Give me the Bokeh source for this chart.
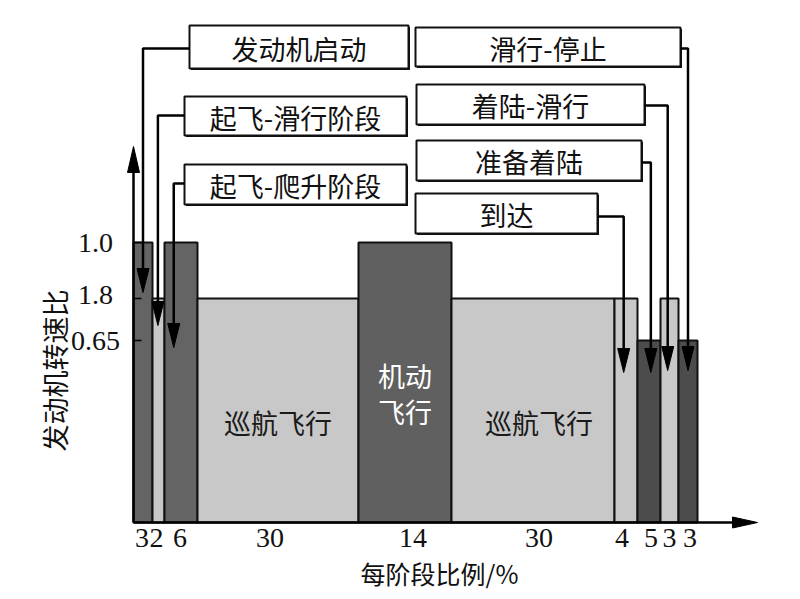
from bokeh.plotting import figure
from bokeh.models import Range1d
from bokeh.core.properties import value
from bokeh.embed import file_html
from bokeh.resources import INLINE

# ---------------- data ----------------
seg_pct = ["3", "2", "6", "30", "14", "30", "4", "5", "3", "3"]          # tick labels (% of mission)
seg_width = [19, 12, 33, 161, 93, 163, 23, 23, 18, 19]                  # drawn width of each phase
seg_ratio = [1.0, 0.8, 1.0, 0.8, 1.0, 0.8, 0.8, 0.65, 0.8, 0.65]         # engine speed ratio
seg_shade = ["dark", "light", "dark", "light", "mid", "light", "light", "darker", "light", "darker"]
y_ticks = [1.0, 0.8, 0.65]
y_tick_labels = ["1.0", "1.8", "0.65"]
callout_text = ["发动机启动", "起飞-滑行阶段", "起飞-爬升阶段", "滑行-停止", "着陆-滑行", "准备着陆", "到达"]
callout_seg = [0, 1, 2, 9, 8, 7, 6]
bar_text_seg = [3, 4, 4, 5]
bar_text = ["巡航飞行", "机动", "飞行", "巡航飞行"]

# ---------------- layout helpers (picture pixels -> data) ----------------
W, H = 784, 590
OX, OY, PXU = 133, 522, 280.0
def X(px):
    return px - OX
def Y(py):
    return (OY - py) / PXU

shade_color = {"dark": "#646464", "mid": "#606060", "darker": "#4c4c4c", "light": "#c8c8c8"}
CJK = value("Noto Sans CJK SC")
SERIF = value("Liberation Serif")

p = figure(width=W, height=H, output_backend="svg", toolbar_location=None,
           x_range=Range1d(X(0), X(W)), y_range=Range1d(Y(H), Y(0)),
           x_axis_location=None, y_axis_location=None, min_border=0,
           min_border_left=0, min_border_right=0, min_border_top=0, min_border_bottom=0)
p.outline_line_color = None
p.xgrid.grid_line_color = None
p.ygrid.grid_line_color = None
p.background_fill_color = "white"
p.border_fill_color = "white"

# bars
lefts, rights = [], []
acc = 0
for w in seg_width:
    lefts.append(acc)
    acc += w
    rights.append(acc)
centers = [(l + r) / 2 for l, r in zip(lefts, rights)]
p.quad(left=lefts, right=rights, bottom=[0] * len(seg_width), top=seg_ratio,
       fill_color=[shade_color[s] for s in seg_shade], line_color="#111111", line_width=2)

# bar texts
bt_dy = [422, 375, 411, 422]
bt_dx = [0, 0, 0, 6]
bt_x = [centers[s] + d for s, d in zip(bar_text_seg, bt_dx)]
bt_y = [Y(v) for v in bt_dy]
bt_col = ["#1a1a1a", "white", "white", "#1a1a1a"]
p.text(x=bt_x, y=bt_y, text=bar_text, text_color=bt_col, text_font=CJK,
       text_font_size="27px", text_align="center", text_baseline="middle")

# axes (arrows)
p.line([X(133), X(133)], [Y(522), Y(170)], line_color="black", line_width=2.5)
p.patch([X(127), X(139), X(133)], [Y(172), Y(172), Y(146)], color="black")
p.line([X(133), X(734)], [Y(522), Y(522)], line_color="black", line_width=2.5)
p.patch([X(732), X(732), X(757)], [Y(516.5), Y(527.5), Y(522)], color="black")

# y ticks and labels
for t in y_ticks:
    p.line([X(133), X(141)], [t, t], line_color="black", line_width=1.5)
ytl_dy = [0, 4 / PXU, 0]
p.text(x=[X(95)] * 3, y=[t + d for t, d in zip(y_ticks, ytl_dy)], text=y_tick_labels,
       text_font=SERIF, text_font_size="28px", text_align="center", text_baseline="middle",
       text_color="#111111")

# x tick labels
xl_dx = [-1, -2, -1, -8, 8, 6, -4, 2, 0, 2]
p.text(x=[c + d for c, d in zip(centers, xl_dx)], y=[Y(537)] * len(centers), text=seg_pct,
       text_font=SERIF, text_font_size="28px", text_align="center", text_baseline="middle",
       text_color="#111111")

# axis titles
p.text(x=[X(439)], y=[Y(572)], text=["每阶段比例/%"], text_font=CJK, text_font_size="25px",
       text_align="center", text_baseline="middle", text_color="#111111")
p.text(x=[X(54)], y=[Y(370)], text=["发动机转速比"], text_font=CJK, text_font_size="27px",
       text_align="center", text_baseline="middle", angle=1.5707963, text_color="#111111")

# callouts: box (x0, x1, y0, y1), connector y, arrow position within segment, arrow tip y
box = [(189, 408, 25, 68), (184, 406, 96, 135), (184, 406, 164, 204),
       (415, 680, 27, 66), (416, 644, 84, 124), (416, 641, 140, 180), (415, 597, 193, 233)]
conn_y = [48, 115, 183, 48, 105, 162, 216]
arrow_frac = [0.5, 0.45, 0.28, 0.5, 0.4, 0.58, 0.4]
tip_y = [292, 325, 347, 370, 370, 372, 372]
side = ["L", "L", "L", "R", "R", "R", "R"]

for i, txt in enumerate(callout_text):
    x0, x1, y0, y1 = box[i]
    s = callout_seg[i]
    ax = lefts[s] + arrow_frac[i] * seg_width[s]
    p.quad(left=[X(x0 + 1.5)], right=[X(x1 + 1.5)], top=[Y(y0 + 1.5)], bottom=[Y(y1 + 1.5)],
           fill_color="#111111", line_color=None)
    p.quad(left=[X(x0)], right=[X(x1)], top=[Y(y0)], bottom=[Y(y1)],
           fill_color="white", line_color="#111111", line_width=2)
    p.text(x=[X((x0 + x1) / 2)], y=[Y((y0 + y1) / 2 + 1)], text=[txt], text_font=CJK,
           text_font_size="27px", text_align="center", text_baseline="middle", text_color="#111111")
    ex = X(x0) if side[i] == "L" else X(x1)
    p.line([ex, ax, ax], [Y(conn_y[i]), Y(conn_y[i]), Y(tip_y[i] - 22)],
           line_color="black", line_width=2.5)
    p.patch([ax - 6, ax + 6, ax], [Y(tip_y[i] - 24), Y(tip_y[i] - 24), Y(tip_y[i])], color="black")

open("out.html", "w").write(file_html(p, INLINE))
